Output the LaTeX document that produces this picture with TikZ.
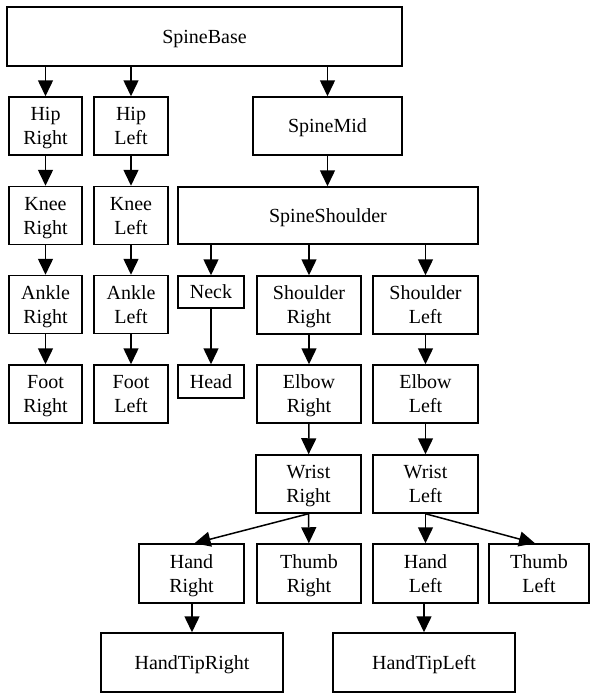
\documentclass[tikz,border=0pt]{standalone}
\usepackage{fontspec}
\setmainfont{Liberation Serif}
\usetikzlibrary{arrows.meta}
\newcommand\ls{\rule[-5pt]{0pt}{23.8pt}}
\begin{document}
\begin{tikzpicture}[x=1pt,y=-1pt,
  box/.style={draw,line width=1.5pt,rectangle,align=center,inner sep=0pt,
    font=\fontsize{20}{24}\selectfont},
  conn/.style={line width=1.5pt,-{Triangle[length=16pt,width=15pt]}}]
\useasboundingbox (0,0) rectangle (590,694);
\node[box,minimum width=395,minimum height=59] (sb) at (204.5,36.5) {\ls SpineBase};
\node[box,minimum width=73,minimum height=58] (hr) at (45.5,126) {\ls Hip\\\ls Right};
\node[box,minimum width=74,minimum height=58] (hl) at (131,126) {\ls Hip\\\ls Left};
\node[box,minimum width=149,minimum height=58] (sm) at (327.5,126) {\ls SpineMid};
\node[box,minimum width=73,minimum height=58] (kr) at (45.5,215.5) {\ls Knee\\\ls Right};
\node[box,minimum width=74,minimum height=58] (kl) at (131,215.5) {\ls Knee\\\ls Left};
\node[box,minimum width=300,minimum height=57] (ss) at (328,215.5) {\ls SpineShoulder};
\node[box,minimum width=73,minimum height=58] (ar) at (45.5,304.5) {\ls Ankle\\\ls Right};
\node[box,minimum width=74,minimum height=58] (al) at (131,304.5) {\ls Ankle\\\ls Left};
\node[box,minimum width=66,minimum height=32] (nk) at (211,292) {\ls Neck};
\node[box,minimum width=104,minimum height=58] (shr) at (309,305) {\ls Shoulder\\\ls Right};
\node[box,minimum width=105,minimum height=58] (shl) at (425.5,305) {\ls Shoulder\\\ls Left};
\node[box,minimum width=73,minimum height=58] (fr) at (45.5,394) {\ls Foot\\\ls Right};
\node[box,minimum width=74,minimum height=58] (fl) at (131,394) {\ls Foot\\\ls Left};
\node[box,minimum width=66,minimum height=33] (hd) at (211,381.5) {\ls Head};
\node[box,minimum width=104,minimum height=58] (er) at (309,394) {\ls Elbow\\\ls Right};
\node[box,minimum width=105,minimum height=58] (el) at (425.5,394) {\ls Elbow\\\ls Left};
\node[box,minimum width=105,minimum height=58] (wr) at (308.5,484) {\ls Wrist\\\ls Right};
\node[box,minimum width=105,minimum height=58] (wl) at (425.5,484) {\ls Wrist\\\ls Left};
\node[box,minimum width=105,minimum height=59] (har) at (191.5,573.5) {\ls Hand\\\ls Right};
\node[box,minimum width=104,minimum height=59] (tr) at (309,573.5) {\ls Thumb\\\ls Right};
\node[box,minimum width=105,minimum height=59] (hal) at (425.5,573.5) {\ls Hand\\\ls Left};
\node[box,minimum width=100,minimum height=59] (tl) at (539,573.5) {\ls Thumb\\\ls Left};
\node[box,minimum width=182,minimum height=59] (htr) at (192,662.5) {\ls HandTipRight};
\node[box,minimum width=182,minimum height=59] (htl) at (424,662.5) {\ls HandTipLeft};
\draw[conn] (hr.north |- sb.south) -- (hr.north);
\draw[conn] (hl.north |- sb.south) -- (hl.north);
\draw[conn] (sm.north |- sb.south) -- (sm.north);
\draw[conn] (hr) -- (kr);
\draw[conn] (hl) -- (kl);
\draw[conn] (sm.south) -- (ss.north -| sm.south);
\draw[conn] (kr) -- (ar);
\draw[conn] (kl) -- (al);
\draw[conn] (nk.north |- ss.south) -- (nk.north);
\draw[conn] (shr.north |- ss.south) -- (shr.north);
\draw[conn] (shl.north |- ss.south) -- (shl.north);
\draw[conn] (ar) -- (fr);
\draw[conn] (al) -- (fl);
\draw[conn] (nk) -- (hd);
\draw[conn] (shr) -- (er);
\draw[conn] (shl) -- (el);
\draw[conn] (er) -- (wr);
\draw[conn] (el) -- (wl);
\draw[conn] (wr.south) -- ([xshift=3pt]har.north);
\draw[conn] (wr) -- (tr);
\draw[conn] (wl) -- (hal);
\draw[conn] (wl.south) -- ([xshift=-4pt]tl.north);
\draw[conn] (har.south -| htr.north) -- (htr.north);
\draw[conn] (hal.south -| htl.north) -- (htl.north);
\end{tikzpicture}
\end{document}
